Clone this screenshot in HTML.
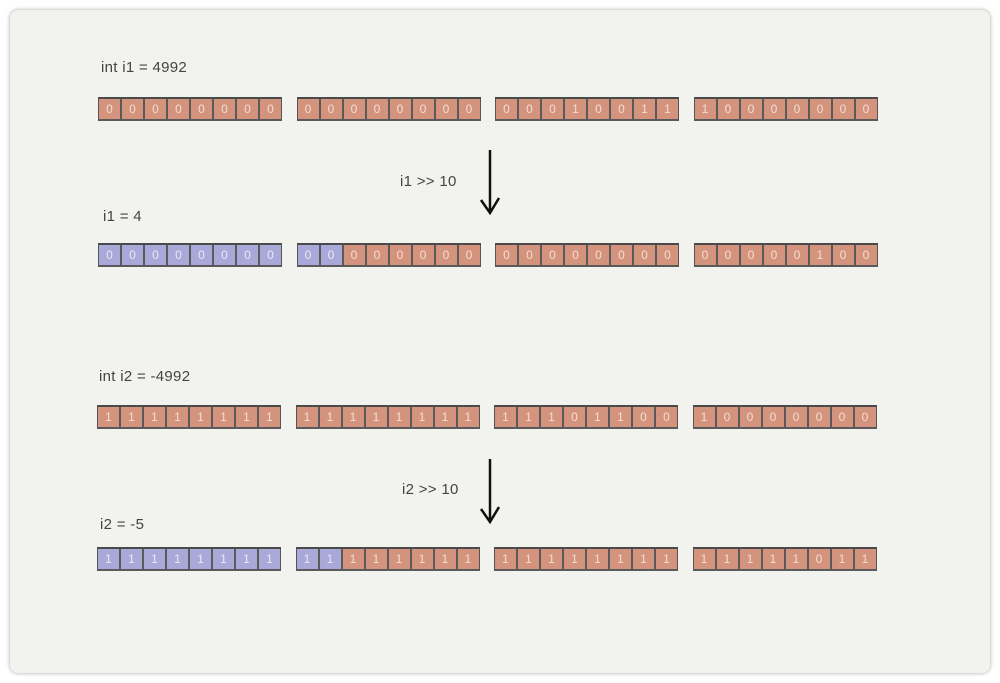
<!DOCTYPE html>
<html><head><style>
body{margin:0;width:1000px;height:683px;background:#fff;position:relative;overflow:hidden;font-family:"Liberation Sans",sans-serif}
.card{position:absolute;left:10px;top:10px;width:980px;height:663px;background:#f2f2ef;border-radius:8px;box-shadow:0 0 4px rgba(0,0,0,.35)}
.lbl{position:absolute;font-size:15px;color:#444;letter-spacing:0.3px}
.row{position:absolute;display:flex;height:24px;align-items:flex-start}
.b{display:flex;margin-right:14.5px;border:1px solid #555;border-top:2px solid #4a4a4a;border-bottom:2px solid #5a5a5a;box-sizing:border-box;height:24px}
.b span{width:21px;height:20px;border-right:2px solid #5a5a5a;background:#d4937d;color:#f3ddd3;font-size:12px;text-align:center;line-height:20px}
.b span:last-child{border-right:none;width:21px}
.b span.p{background:#a9a9d9;color:#e8e8f6}
.arr{position:absolute}
</style></head><body>
<div class="card"></div>
<div class="lbl" style="left:101px;top:59px">int i1 = 4992</div>
<div class="row" style="left:98px;top:97px">
<div class="b"><span>0</span><span>0</span><span>0</span><span>0</span><span>0</span><span>0</span><span>0</span><span>0</span></div>
<div class="b"><span>0</span><span>0</span><span>0</span><span>0</span><span>0</span><span>0</span><span>0</span><span>0</span></div>
<div class="b"><span>0</span><span>0</span><span>0</span><span>1</span><span>0</span><span>0</span><span>1</span><span>1</span></div>
<div class="b"><span>1</span><span>0</span><span>0</span><span>0</span><span>0</span><span>0</span><span>0</span><span>0</span></div>
</div>
<div class="lbl" style="left:400px;top:173px">i1 &gt;&gt; 10</div>
<svg class="arr" style="left:475px;top:148px" width="30" height="70"><path d="M15 2 L15 64 M6 52 L15 65 L24 50" stroke="#111" stroke-width="2.5" fill="none"/></svg>
<div class="lbl" style="left:103px;top:208px">i1 = 4</div>
<div class="row" style="left:98px;top:243px">
<div class="b"><span class="p">0</span><span class="p">0</span><span class="p">0</span><span class="p">0</span><span class="p">0</span><span class="p">0</span><span class="p">0</span><span class="p">0</span></div>
<div class="b"><span class="p">0</span><span class="p">0</span><span>0</span><span>0</span><span>0</span><span>0</span><span>0</span><span>0</span></div>
<div class="b"><span>0</span><span>0</span><span>0</span><span>0</span><span>0</span><span>0</span><span>0</span><span>0</span></div>
<div class="b"><span>0</span><span>0</span><span>0</span><span>0</span><span>0</span><span>1</span><span>0</span><span>0</span></div>
</div>
<div class="lbl" style="left:99px;top:368px">int i2 = -4992</div>
<div class="row" style="left:97px;top:405px">
<div class="b"><span>1</span><span>1</span><span>1</span><span>1</span><span>1</span><span>1</span><span>1</span><span>1</span></div>
<div class="b"><span>1</span><span>1</span><span>1</span><span>1</span><span>1</span><span>1</span><span>1</span><span>1</span></div>
<div class="b"><span>1</span><span>1</span><span>1</span><span>0</span><span>1</span><span>1</span><span>0</span><span>0</span></div>
<div class="b"><span>1</span><span>0</span><span>0</span><span>0</span><span>0</span><span>0</span><span>0</span><span>0</span></div>
</div>
<div class="lbl" style="left:402px;top:481px">i2 &gt;&gt; 10</div>
<svg class="arr" style="left:475px;top:457px" width="30" height="70"><path d="M15 2 L15 64 M6 52 L15 65 L24 50" stroke="#111" stroke-width="2.5" fill="none"/></svg>
<div class="lbl" style="left:100px;top:516px">i2 = -5</div>
<div class="row" style="left:97px;top:547px">
<div class="b"><span class="p">1</span><span class="p">1</span><span class="p">1</span><span class="p">1</span><span class="p">1</span><span class="p">1</span><span class="p">1</span><span class="p">1</span></div>
<div class="b"><span class="p">1</span><span class="p">1</span><span>1</span><span>1</span><span>1</span><span>1</span><span>1</span><span>1</span></div>
<div class="b"><span>1</span><span>1</span><span>1</span><span>1</span><span>1</span><span>1</span><span>1</span><span>1</span></div>
<div class="b"><span>1</span><span>1</span><span>1</span><span>1</span><span>1</span><span>0</span><span>1</span><span>1</span></div>
</div>
</body></html>
